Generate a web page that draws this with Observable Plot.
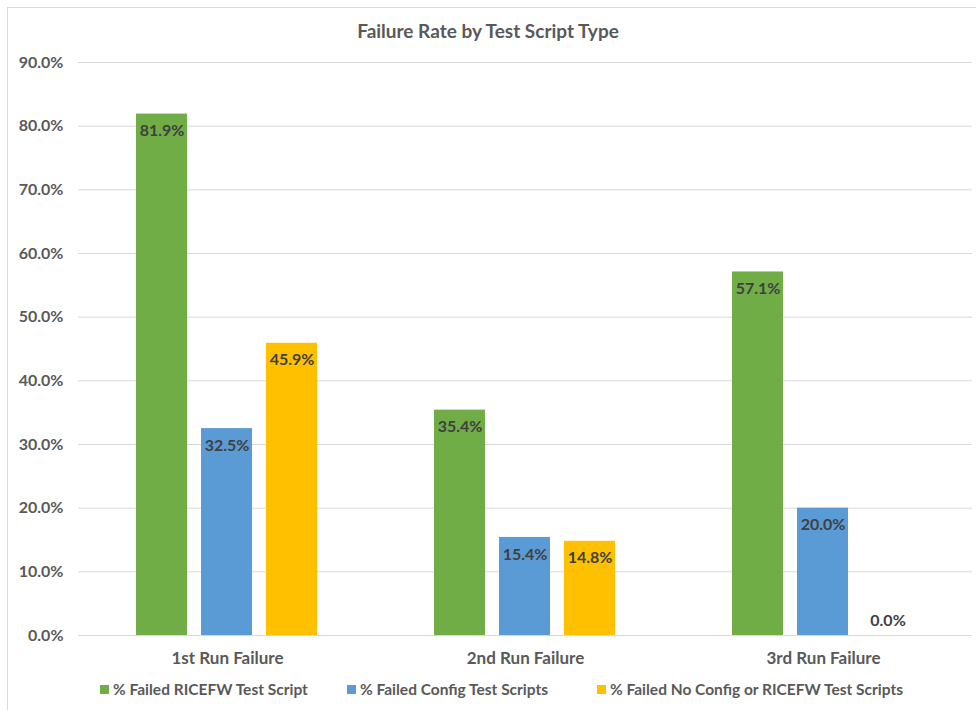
<!DOCTYPE html>
<html>
<head>
<meta charset="utf-8">
<script src="https://cdn.jsdelivr.net/npm/d3@7"></script>
<script src="https://cdn.jsdelivr.net/npm/@observablehq/plot@0.6"></script>
<style>
  html, body { margin: 0; padding: 0; background: #fff; }
  body { width: 976px; height: 710px; position: relative; overflow: hidden; font-family: Lato, "Open Sans", sans-serif; }
  #frame { position: absolute; left: 7px; top: 7px; width: 980px; height: 720px; border: 1px solid #d9d9d9; box-sizing: border-box; }
  #title { position: absolute; left: 0; top: 19px; width: 976px; text-align: center; font-size: 19px; font-weight: bold; color: #595959; }
  #chart { position: absolute; left: 0; top: 50px; }
  #legend { position: absolute; left: 0; top: 680px; width: 976px; font-size: 15.5px; font-weight: bold; color: #595959; }
  .item { position: absolute; top: 0; white-space: nowrap; display: flex; align-items: center; }
  .sw { width: 9px; height: 9px; display: inline-block; margin-right: 4px; }
</style>
</head>
<body>
<div id="frame"></div>
<div id="title">Failure Rate by Test Script Type</div>
<div id="chart"></div>
<div id="legend"></div>
<script>
const groups = ["1st Run Failure", "2nd Run Failure", "3rd Run Failure"];
const series = ["% Failed RICEFW Test Script", "% Failed Config Test Scripts", "% Failed No Config or RICEFW Test Scripts"];
const ricefw = [0.819, 0.354, 0.571];
const config = [0.325, 0.154, 0.200];
const noConfig = [0.459, 0.148, 0.000];
const colors = ["#70AD47", "#5B9BD5", "#FFC000"];
const yTicks = [0, 0.1, 0.2, 0.3, 0.4, 0.5, 0.6, 0.7, 0.8, 0.9];
const legendX = [100, 347, 597];

const values = [ricefw, config, noConfig];
const data = [];
groups.forEach((g, i) => series.forEach((s, j) => data.push({group: g, series: s, value: values[j][i]})));

const fmt = d3.format(".1%");
const font = "Lato, 'Open Sans', sans-serif";

const plot = Plot.plot({
  width: 976,
  height: 622,
  marginTop: 12,
  marginBottom: 37,
  marginLeft: 78,
  marginRight: 4,
  style: {fontFamily: font, fontSize: "16px", fontWeight: "bold", color: "#595959", background: "transparent"},
  fx: {domain: groups, padding: 0, label: null, axis: "bottom", tickSize: 0, tickPadding: 16},
  x: {domain: series, paddingInner: 0.212, paddingOuter: 0.864, axis: null},
  y: {domain: [0, 0.9], ticks: yTicks, tickFormat: fmt, label: null, tickSize: 0, tickPadding: 15},
  color: {domain: series, range: colors},
  marks: [
    Plot.gridY(yTicks, {stroke: "#d9d9d9", strokeOpacity: 1, strokeWidth: 1}),
    Plot.barY(data, {fx: "group", x: "series", y: "value", fill: "series"}),
    Plot.text(data.filter(d => d.value > 0), {fx: "group", x: "series", y: "value", text: d => fmt(d.value), dy: 17, fill: "#404040", fontSize: 16, fontWeight: "bold"}),
    Plot.text(data.filter(d => d.value === 0), {fx: "group", x: "series", y: "value", text: d => fmt(d.value), dy: -15, fill: "#404040", fontSize: 16, fontWeight: "bold"})
  ]
});
// enlarge the facet (category) labels
plot.querySelectorAll("[aria-label='fx-axis tick label'] text").forEach(t => t.style.fontSize = "17px");
document.getElementById("chart").appendChild(plot);

const legend = document.getElementById("legend");
series.forEach((s, i) => {
  const it = document.createElement("div");
  it.className = "item";
  it.style.left = legendX[i] + "px";
  it.innerHTML = `<span class="sw" style="background:${colors[i]}"></span><span>${s}</span>`;
  legend.appendChild(it);
});
</script>
</body>
</html>
